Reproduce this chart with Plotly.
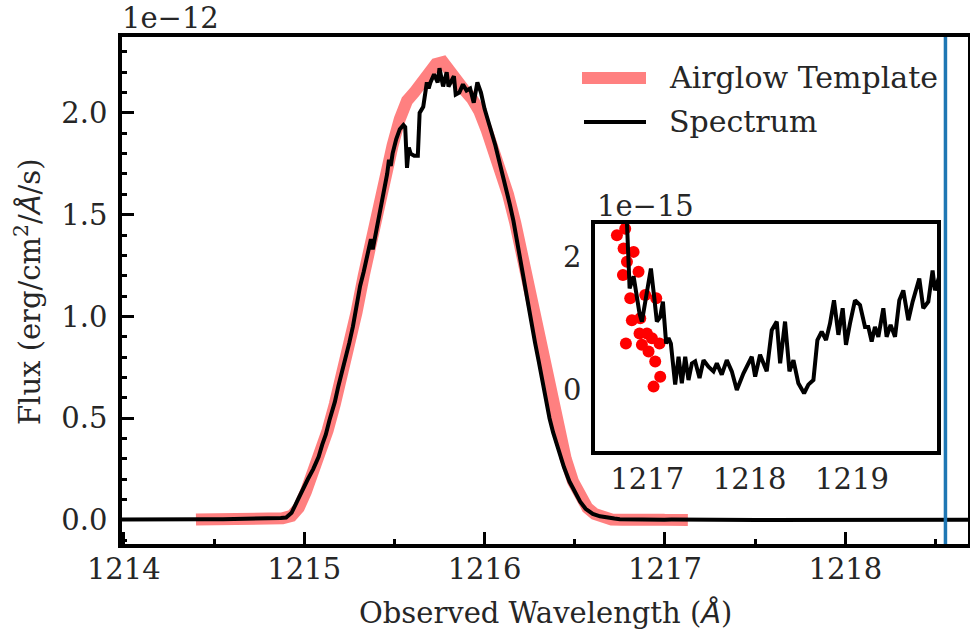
import plotly.graph_objects as go

# ---------------- data ----------------
# Spectrum core (wavelength in Angstrom, flux in units of 1e-12 erg/cm^2/A/s)
spec_core_wave = [1213.95, 1214.05, 1214.15, 1214.25, 1214.35, 1214.45, 1214.55, 1214.65, 1214.75, 1214.82,
                  1214.87, 1214.90, 1214.93, 1214.96, 1214.99, 1215.02, 1215.05, 1215.08, 1215.10, 1215.12,
                  1215.14, 1215.17, 1215.19, 1215.22, 1215.25, 1215.27, 1215.29, 1215.31, 1215.33, 1215.35,
                  1215.37, 1215.38, 1215.40, 1215.42, 1215.44, 1215.46, 1215.47, 1215.48, 1215.49, 1215.51,
                  1215.53, 1215.55, 1215.56, 1215.57, 1215.58, 1215.59, 1215.61, 1215.63, 1215.64, 1215.66,
                  1215.68, 1215.69, 1215.70, 1215.72, 1215.74, 1215.75, 1215.77, 1215.79, 1215.80, 1215.83,
                  1215.84, 1215.86, 1215.88, 1215.90, 1215.92, 1215.94, 1215.96, 1215.98, 1216.00, 1216.02,
                  1216.04, 1216.06, 1216.08, 1216.10, 1216.12, 1216.14, 1216.16, 1216.18, 1216.20, 1216.22,
                  1216.24, 1216.26, 1216.28, 1216.30, 1216.32, 1216.34, 1216.36, 1216.38, 1216.41, 1216.44,
                  1216.47, 1216.50, 1216.53, 1216.56, 1216.60, 1216.64, 1216.68, 1216.72, 1216.75]
spec_core_flux = [0.002, 0.003, 0.002, 0.003, 0.002, 0.003, 0.003, 0.004, 0.005, 0.006,
                  0.010, 0.012, 0.035, 0.09, 0.15, 0.20, 0.25, 0.31, 0.37, 0.42,
                  0.49, 0.58, 0.66, 0.76, 0.87, 0.95, 1.06, 1.15, 1.22, 1.30,
                  1.38, 1.33, 1.42, 1.50, 1.60, 1.70, 1.77, 1.74, 1.80, 1.87,
                  1.92, 1.94, 1.93, 1.73, 1.83, 1.80, 1.79, 1.79, 2.00, 2.03,
                  2.15, 2.12, 2.15, 2.19, 2.15, 2.22, 2.13, 2.20, 2.13, 2.18,
                  2.09, 2.10, 2.14, 2.11, 2.12, 2.05, 2.15, 2.10, 2.02, 1.95,
                  1.90, 1.84, 1.77, 1.69, 1.62, 1.55, 1.47, 1.37, 1.26, 1.15,
                  1.05, 0.96, 0.87, 0.78, 0.68, 0.60, 0.50, 0.43, 0.34, 0.26,
                  0.19, 0.14, 0.09, 0.055, 0.03, 0.018, 0.011, 0.007, 0.004]
# Spectrum red wing (flux in units of 1e-15 erg/cm^2/A/s)
spec_wing_wave = [1216.800, 1216.818, 1216.828, 1216.867, 1216.873, 1216.925, 1216.948, 1216.997, 1217.036, 1217.068,
                  1217.094, 1217.127, 1217.153, 1217.185, 1217.208, 1217.231, 1217.273, 1217.306, 1217.338, 1217.371,
                  1217.403, 1217.436, 1217.468, 1217.511, 1217.550, 1217.598, 1217.647, 1217.680, 1217.728, 1217.777,
                  1217.826, 1217.875, 1217.940, 1218.021, 1218.054, 1218.102, 1218.167, 1218.216, 1218.265, 1218.298,
                  1218.346, 1218.389, 1218.428, 1218.476, 1218.532, 1218.574, 1218.623, 1218.662, 1218.704, 1218.746,
                  1218.785, 1218.824, 1218.867, 1218.909, 1218.941, 1218.980, 1219.029, 1219.078, 1219.127, 1219.159,
                  1219.192, 1219.224, 1219.257, 1219.306, 1219.338, 1219.377, 1219.420, 1219.462, 1219.501, 1219.550,
                  1219.592, 1219.657, 1219.696, 1219.745, 1219.787, 1219.810, 1219.860]
spec_wing_flux = [2.60, 2.06, 1.53, 1.71, 1.65, 1.15, 1.03, 1.45, 1.83, 1.40,
                  1.03, 1.10, 1.33, 0.70, 0.78, 0.70, 0.08, 0.50, 0.10, 0.50,
                  0.15, 0.40, 0.43, 0.18, 0.45, 0.35, 0.28, 0.40, 0.23, 0.45,
                  0.28, 0.00, 0.25, 0.50, 0.20, 0.53, 0.28, 0.90, 1.03, 0.40,
                  1.03, 0.28, 0.45, 0.10, -0.05, 0.08, 0.15, 0.75, 0.88, 0.75,
                  1.00, 1.35, 0.83, 1.23, 0.68, 1.00, 1.35, 1.28, 0.95, 0.95,
                  0.73, 0.95, 0.80, 1.23, 0.80, 0.98, 0.80, 1.35, 1.50, 1.05,
                  1.33, 1.68, 1.23, 1.33, 1.80, 1.50, 1.75]

# Airglow template core (flux in 1e-12) and tail (flux in 1e-15)
tmpl_core_wave = [1214.40, 1214.50, 1214.60, 1214.70, 1214.80, 1214.88, 1214.93, 1214.97, 1215.01, 1215.05,
                  1215.09, 1215.13, 1215.17, 1215.21, 1215.25, 1215.29, 1215.33, 1215.37, 1215.41, 1215.45,
                  1215.49, 1215.53, 1215.57, 1215.61, 1215.65, 1215.69, 1215.73, 1215.77, 1215.81, 1215.85,
                  1215.89, 1215.93, 1215.97, 1216.01, 1216.05, 1216.09, 1216.13, 1216.17, 1216.21, 1216.25,
                  1216.29, 1216.33, 1216.37, 1216.41, 1216.45, 1216.49, 1216.53, 1216.57, 1216.61, 1216.65]
tmpl_core_flux = [0.002, 0.002, 0.003, 0.003, 0.004, 0.008, 0.02, 0.06, 0.14, 0.23,
                  0.33, 0.44, 0.57, 0.71, 0.86, 1.02, 1.20, 1.37, 1.52, 1.68,
                  1.84, 1.97, 2.06, 2.10, 2.14, 2.19, 2.24, 2.25, 2.20, 2.14,
                  2.11, 2.07, 2.01, 1.92, 1.82, 1.72, 1.60, 1.46, 1.30, 1.13,
                  0.96, 0.78, 0.61, 0.44, 0.30, 0.19, 0.11, 0.06, 0.03, 0.015]
tmpl_tail_wave = [1216.704, 1216.763, 1216.769, 1216.785, 1216.792, 1216.802, 1216.834, 1216.850, 1216.867, 1216.915,
                  1216.925, 1216.932, 1216.948, 1216.980, 1216.997, 1217.013, 1217.046, 1217.062, 1217.078, 1217.088,
                  1217.120, 1217.127]
tmpl_tail_flux = [2.33, 1.73, 2.13, 2.43, 0.70, 1.93, 1.38, 1.05, 2.08, 1.78,
                  0.85, 1.08, 0.68, 1.43, 0.85, 0.58, 0.78, 0.05, 0.43, 1.38,
                  0.70, 0.20]

line_center_wave = 1218.555

main_xticks = [1214, 1215, 1216, 1217, 1218]
main_yticks = [0.0, 0.5, 1.0, 1.5, 2.0]
inset_xticks = [1217, 1218, 1219]
inset_yticks = [0, 2]

# ---------------- build series ----------------
spec_wave = spec_core_wave + spec_wing_wave
spec_flux = [f * 1e-12 for f in spec_core_flux] + [f * 1e-15 for f in spec_wing_flux]
tmpl_wave = tmpl_core_wave + tmpl_tail_wave
tmpl_flux = [f * 1e-12 for f in tmpl_core_flux] + [f * 1e-15 for f in tmpl_tail_flux]

W, H = 970, 639
def fx(p):
    return p / W
def fy(p):
    return 1 - p / H

FONT = "DejaVu Serif"
TXT = "#262626"
FS = 29

fig = go.Figure()
fig.add_trace(go.Scatter(x=tmpl_wave, y=[f / 1e-12 for f in tmpl_flux], mode="lines",
                         line=dict(color="#ff8080", width=12), xaxis="x", yaxis="y",
                         hoverinfo="skip"))
fig.add_trace(go.Scatter(x=spec_wave, y=[f / 1e-12 for f in spec_flux], mode="lines",
                         line=dict(color="black", width=4), xaxis="x", yaxis="y"))
fig.add_trace(go.Scatter(x=tmpl_wave, y=[f / 1e-15 for f in tmpl_flux], mode="markers",
                         marker=dict(color="red", size=12, line=dict(width=0)), xaxis="x2", yaxis="y2"))
fig.add_trace(go.Scatter(x=spec_wave, y=[f / 1e-15 for f in spec_flux], mode="lines",
                         line=dict(color="black", width=4), xaxis="x2", yaxis="y2"))

tickfont = dict(family=FONT, size=FS, color=TXT)
axis_common = dict(showline=True, mirror=True, linecolor="black", linewidth=3.5,
                   showgrid=False, zeroline=False, tickfont=tickfont, automargin=False)

fig.update_layout(
    width=W, height=H, margin=dict(l=0, r=0, t=0, b=0, pad=0),
    paper_bgcolor="white", plot_bgcolor="white", showlegend=False,
    xaxis=dict(domain=[fx(122), fx(968)], range=[1213.99, 1218.68], anchor="y",
               tickvals=main_xticks, ticktext=[str(v) for v in main_xticks],
               ticks="inside", ticklen=12, tickwidth=2.5, tickcolor="black",
               minor=dict(ticks="inside", ticklen=5, tickwidth=2.5, tickcolor="black",
                          tick0=1214, dtick=0.5),
               ticklabelstandoff=-4, **axis_common),
    yaxis=dict(domain=[fy(544), fy(37)], range=[-0.118, 2.373], anchor="x",
               tickvals=main_yticks, ticktext=["%.1f" % v for v in main_yticks],
               ticks="inside", ticklen=12, tickwidth=2.5, tickcolor="black",
               minor=dict(ticks="inside", ticklen=5, tickwidth=2.5, tickcolor="black",
                          tick0=0, dtick=0.1),
               ticklabelstandoff=5, **axis_common),
    xaxis2=dict(domain=[fx(595), fx(937)], range=[1216.49, 1219.83], anchor="y2",
                tickvals=inset_xticks, ticktext=[str(v) for v in inset_xticks],
                ticks="", ticklabelstandoff=-1, **axis_common),
    yaxis2=dict(domain=[fy(451), fy(224)], range=[-0.92, 2.5], anchor="x2",
                tickvals=inset_yticks, ticktext=[str(v) for v in inset_yticks],
                ticks="", ticklabelstandoff=4, **axis_common),
)

BLUE = "#1f77b4"
shapes = [
    dict(type="line", xref="x", yref="y domain", x0=line_center_wave, x1=line_center_wave,
         y0=0, y1=1, line=dict(color=BLUE, width=3.5), layer="above"),
    dict(type="line", xref="x2", yref="y2 domain", x0=line_center_wave, x1=line_center_wave,
         y0=0, y1=1, line=dict(color=BLUE, width=3.5), layer="below"),
    # legend samples
    dict(type="line", xref="paper", yref="paper", x0=fx(582), x1=fx(646), y0=fy(78), y1=fy(78),
         line=dict(color="#ff8080", width=12)),
    dict(type="line", xref="paper", yref="paper", x0=fx(584), x1=fx(646), y0=fy(122), y1=fy(122),
         line=dict(color="black", width=4)),
]
fig.update_layout(shapes=shapes)

afont = dict(family=FONT, size=FS, color=TXT)
annotations = [
    dict(text="1e\u221212", x=fx(120), y=fy(18), xref="paper", yref="paper",
         xanchor="left", yanchor="middle", showarrow=False, font=afont),
    dict(text="1e\u221215", x=fx(595), y=fy(206), xref="paper", yref="paper",
         xanchor="left", yanchor="middle", showarrow=False, font=afont),
    dict(text="Airglow Template", x=fx(667), y=fy(78), xref="paper", yref="paper",
         xanchor="left", yanchor="middle", showarrow=False, font=dict(family=FONT, size=30, color=TXT)),
    dict(text="Spectrum", x=fx(667), y=fy(122), xref="paper", yref="paper",
         xanchor="left", yanchor="middle", showarrow=False, font=dict(family=FONT, size=30, color=TXT)),
    dict(text="Observed Wavelength (<span style=\"font-family:DejaVu Sans\"><i>\u00c5</i></span>)",
         x=fx(545), y=fy(613), xref="paper", yref="paper",
         xanchor="center", yanchor="middle", showarrow=False, font=afont),
    dict(text="Flux (erg/cm<sup>2</sup>/<span style=\"font-family:DejaVu Sans\"><i>\u00c5</i></span>/s)",
         x=fx(28), y=fy(292), xref="paper", yref="paper", textangle=-90,
         xanchor="center", yanchor="middle", showarrow=False, font=afont),
]
fig.update_layout(annotations=annotations)

fig.write_html("out.html")
